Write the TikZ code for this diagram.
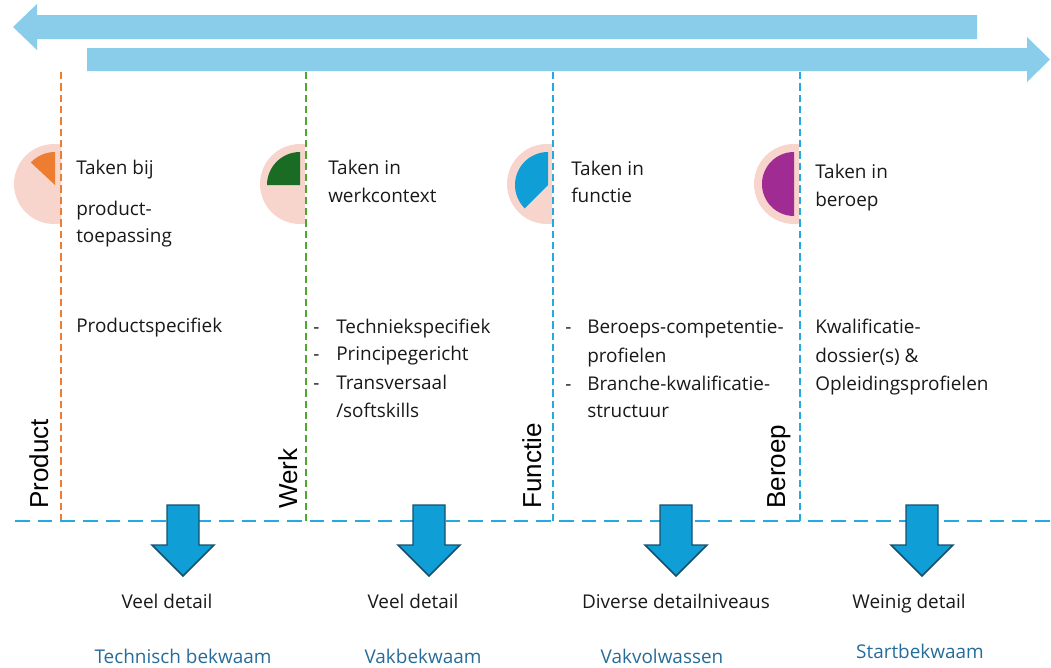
\documentclass[tikz,border=0pt]{standalone}
\usepackage{fontspec}
\setmainfont{Open Sans}
\newfontfamily\lblfont{Liberation Sans}
\definecolor{barblue}{RGB}{137,205,234}
\definecolor{pinkc}{RGB}{248,213,204}
\definecolor{orangec}{RGB}{237,125,49}
\definecolor{greenc}{RGB}{26,107,36}
\definecolor{greendash}{RGB}{78,167,46}
\definecolor{bluec}{RGB}{15,158,213}
\definecolor{bluedash}{RGB}{40,168,224}
\definecolor{purplec}{RGB}{160,43,147}
\definecolor{arrowedge}{RGB}{22,80,110}
\definecolor{levelblue}{RGB}{38,108,155}
\definecolor{textc}{RGB}{25,25,25}
\begin{document}
\begin{tikzpicture}[x=0.75pt,y=-0.75pt,
  txt/.style={font=\fontsize{14.2}{16}\selectfont, inner sep=0, anchor=base west, text=textc},
  ctxt/.style={font=\fontsize{14.2}{16}\selectfont, inner sep=0, anchor=base, text=textc},
  lvl/.style={font=\fontsize{14.2}{16}\selectfont, inner sep=0, anchor=base, text=levelblue},
  vlbl/.style={font=\lblfont\fontsize{19.5}{22}\selectfont, inner sep=0, anchor=base west, rotate=90, text=black},
  vdash/.style={line width=1.6pt, dash pattern=on 5.5pt off 3pt},
  hdash/.style={line width=1.6pt, dash pattern=on 11pt off 6pt, bluedash},
  darr/.style={fill=bluec, draw=arrowedge, line width=1.1pt, line join=miter},
  dnarrow/.pic={\path[darr] (-16,0) -- (16,0) -- (16,40) -- (31,40) -- (0,71) -- (-31,40) -- (-16,40) -- cycle;}
]
\useasboundingbox (0,0) rectangle (1051,668);

% top arrows
\fill[barblue] (977,15) -- (37,15) -- (37,4) -- (13,27) -- (37,50) -- (37,39) -- (977,39) -- cycle;
\fill[barblue] (87,48) -- (1027,48) -- (1027,37) -- (1050,59.5) -- (1027,82) -- (1027,71) -- (87,71) -- cycle;

% pies
\begin{scope}
  \clip (0,100) rectangle (61,260);
  \fill[pinkc] (54,184) circle (40);
\end{scope}
\fill[orangec] (55,185) -- ++(-90:33) arc (-90:-137:33) -- cycle;

\begin{scope}
  \clip (250,100) rectangle (305,260);
  \fill[pinkc] (300,184) circle (40);
\end{scope}
\fill[greenc] (300,185) -- ++(-90:33) arc (-90:-180:33) -- cycle;

\begin{scope}
  \clip (490,100) rectangle (552,260);
  \fill[pinkc] (547,184) circle (40);
\end{scope}
\fill[bluec] (548,185) -- ++(-90:33) arc (-90:-225:33) -- cycle;

\begin{scope}
  \clip (740,100) rectangle (799,260);
  \fill[pinkc] (794,184) circle (40);
\end{scope}
\fill[purplec] (794,184) -- ++(-90:32) arc (-90:-270:32) -- cycle;

% dashed lines
\coordinate (v1t) at (61,72);  \coordinate (v1b) at (61,521);
\coordinate (v2t) at (306,72); \coordinate (v2b) at (306,521);
\coordinate (v3t) at (553,72); \coordinate (v3b) at (553,521);
\coordinate (v4t) at (800,72); \coordinate (v4b) at (800,521);
\coordinate (hl) at (15,521);  \coordinate (hr) at (1051,521);
\draw[vdash, orangec] (v1t) -- (v1b);
\draw[vdash, greendash] (v2t) -- (v2b);
\draw[vdash, bluedash] (v3t) -- (v3b);
\draw[vdash, bluedash] (v4t) -- (v4b);
\draw[hdash] (hl) -- (hr);

% vertical labels
\node[vlbl] (lp) at (48,509) {Product};
\node[vlbl] (lw) at (297,509) {Werk};
\node[vlbl] (lf) at (541,509) {Functie};
\node[vlbl] (lb) at (785,509) {Beroep};

% column 1
\node[txt] (p1) at (76,174) {Taken bij};
\node[txt] (p2) at (76,215) {product-};
\node[txt] (p3) at (76,242) {toepassing};
\node[txt] (p4) at (76,332) {Productspecifiek};

% column 2
\node[txt] (w1) at (328,174) {Taken in};
\node[txt] (w2) at (328,202) {werkcontext};
\node[txt] (wd1) at (313,333) {-};
\node[txt] (w3) at (336,333) {Techniekspecifiek};
\node[txt] (wd2) at (313,360) {-};
\node[txt] (w4) at (336,360) {Principegericht};
\node[txt] (wd3) at (313,389) {-};
\node[txt] (w5) at (336,389) {Transversaal};
\node[txt] (w6) at (336,417) {/softskills};

% column 3
\node[txt] (f1) at (571,175) {Taken in};
\node[txt] (f2) at (571,202) {functie};
\node[txt] (fd1) at (565,333) {-};
\node[txt] (f3) at (587,333) {Beroeps-competentie-};
\node[txt] (f4) at (587,362) {profielen};
\node[txt] (fd2) at (565,390) {-};
\node[txt] (f5) at (587,390) {Branche-kwalificatie-};
\node[txt] (f6) at (587,417) {structuur};

% column 4
\node[txt] (b1) at (815,178) {Taken in};
\node[txt] (b2) at (815,206) {beroep};
\node[txt] (b3) at (815,333) {Kwalificatie-};
\node[txt] (b4) at (815,362) {dossier(s) \&};
\node[txt] (b5) at (815,390) {Opleidingsprofielen};

% down arrows
\pic at (183,505) {dnarrow};
\pic at (429,505) {dnarrow};
\pic at (676,505) {dnarrow};
\pic at (922,505) {dnarrow};

% detail labels
\node[ctxt] (d1) at (167,608) {Veel detail};
\node[ctxt] (d2) at (413,608) {Veel detail};
\node[ctxt] (d3) at (676,608) {Diverse detailniveaus};
\node[ctxt] (d4) at (909,608) {Weinig detail};

% level labels
\node[lvl] (l1) at (183,663) {Technisch bekwaam};
\node[lvl] (l2) at (423,663) {Vakbekwaam};
\node[lvl] (l3) at (662,663) {Vakvolwassen};
\node[lvl] (l4) at (920,658) {Startbekwaam};
\end{tikzpicture}
\end{document}
